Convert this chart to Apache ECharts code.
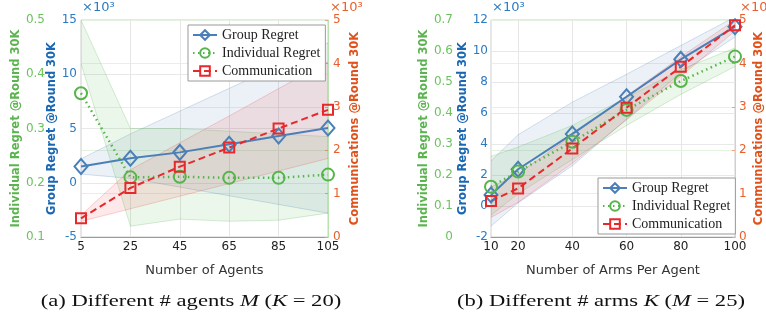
<!DOCTYPE html>
<html><head><meta charset="utf-8">
<script src="https://cdn.jsdelivr.net/npm/echarts@6/dist/echarts.min.js"></script>
<style>html,body{margin:0;padding:0;background:#fff}#c{width:766px;height:320px}</style>
</head><body><div id="c"></div>
<script>
// ---- Panel (a): different number of agents ----
const agents = ['5', '25', '45', '65', '85', '105'];
const groupA = [1.5, 2.25, 2.8, 3.55, 4.3, 5.05];          // x10^3
const groupA_hi = [2.2, 4.5, 6.6, 8.7, 10.8, 12.9];
const groupA_lo = [0.8, 0.4, -0.4, -1.2, -2.0, -2.8];
const indivA = [0.365, 0.21, 0.211, 0.209, 0.209, 0.215];
const indivA_hi = [0.5, 0.30, 0.30, 0.295, 0.29, 0.285];
const indivA_lo = [0.42, 0.12, 0.133, 0.129, 0.131, 0.144];
const commA = [0.43, 1.13, 1.62, 2.06, 2.5, 2.93];          // x10^3
const commA_hi = [0.5, 1.55, 2.17, 2.79, 3.42, 4.04];
const commA_lo = [0.36, 0.65, 0.94, 1.23, 1.52, 1.81];

// ---- Panel (b): different number of arms ----
const arms = [10, 20, 40, 60, 80, 100];
const armTicks = [10, 20, 40, 60, 80, 100];
const groupB = [0.71, 2.37, 4.65, 7.05, 9.46, 11.57];       // x10^3
const groupB_hi = [2.9, 4.6, 6.7, 8.5, 10.35, 12.2];
const groupB_lo = [-1.3, 0.2, 2.6, 5.6, 8.6, 10.9];
const indivB = [0.162, 0.211, 0.307, 0.41, 0.503, 0.582];
const indivB_hi = [0.26, 0.29, 0.36, 0.45, 0.54, 0.61];
const indivB_lo = [0.07, 0.14, 0.25, 0.36, 0.46, 0.55];
const commB = [0.83, 1.12, 2.04, 2.98, 3.92, 4.88];         // x10^3
const commB_hi = [1.15, 1.45, 2.35, 3.25, 4.15, 5.0];
const commB_lo = [0.45, 0.8, 1.7, 2.7, 3.7, 4.75];

const names = ['Group Regret', 'Individual Regret', 'Communication'];

const C_BLUE = '#4a7fb8', C_GREEN = '#55b54a', C_RED = '#e8282b';
const F_BLUE = 'rgba(74,127,184,0.11)', F_GREEN = 'rgba(85,181,74,0.11)', F_RED = 'rgba(232,40,43,0.10)';
const E_BLUE = 'rgba(74,127,184,0.3)', E_GREEN = 'rgba(85,181,74,0.3)', E_RED = 'rgba(232,40,43,0.25)';
const T_BLUE = '#2b7bc4', T_GREEN = '#6cc35e', T_ORANGE = '#e8602c';
const N_BLUE = '#1a67b3', N_GREEN = '#5cb450', N_ORANGE = '#e0521c';
const SANS = 'DejaVu Sans';

function pts(xs, ys, cat) { return xs.map((x, i) => cat ? ys[i] : [x, ys[i]]); }

function band(xi, yi, xs, lo, hi, fill, edge, cat) {
  const data = xs.map((x, i) => [cat ? i : x, lo[i], hi[i]]);
  return {
    type: 'custom', xAxisIndex: xi, yAxisIndex: yi, data: data, z: 1, silent: true,
    encode: { x: 0, y: [1, 2] },
    renderItem: function (params, api) {
      if (params.dataIndex !== 0) return null;
      const up = data.map(d => api.coord([d[0], d[2]]));
      const dn = data.map(d => api.coord([d[0], d[1]]));
      const cs = params.coordSys;
      return {
        type: 'group',
        clipPath: { type: 'rect', shape: { x: cs.x, y: cs.y, width: cs.width, height: cs.height } },
        children: [
          { type: 'polygon', shape: { points: up.concat(dn.slice().reverse()) }, style: { fill: fill } },
          { type: 'polyline', shape: { points: up }, style: { stroke: edge, lineWidth: 0.8, fill: null } },
          { type: 'polyline', shape: { points: dn }, style: { stroke: edge, lineWidth: 0.8, fill: null } }
        ]
      };
    }
  };
}

function mainLines(xi, yB, yG, yO, xs, g, ind, cm, cat) {
  return [
    { type: 'line', name: names[0], xAxisIndex: xi, yAxisIndex: yB, data: pts(xs, g, cat), z: 4,
      symbol: 'diamond', symbolSize: [13, 15],
      lineStyle: { color: C_BLUE, width: 2 },
      itemStyle: { color: 'rgba(255,255,255,0)', borderColor: C_BLUE, borderWidth: 2 } },
    { type: 'line', name: names[1], xAxisIndex: xi, yAxisIndex: yG, data: pts(xs, ind, cat), z: 4,
      symbol: 'circle', symbolSize: 12,
      lineStyle: { color: C_GREEN, width: 2.5, type: [1.5, 3.5] },
      itemStyle: { color: 'rgba(255,255,255,0)', borderColor: C_GREEN, borderWidth: 2 } },
    { type: 'line', name: names[2], xAxisIndex: xi, yAxisIndex: yO, data: pts(xs, cm, cat), z: 4,
      symbol: 'rect', symbolSize: 10,
      lineStyle: { color: C_RED, width: 2, type: [7, 4] },
      itemStyle: { color: 'rgba(255,255,255,0)', borderColor: C_RED, borderWidth: 2 } }
  ];
}

function yAx(gi, opts) {
  return Object.assign({
    type: 'value', gridIndex: gi, nameLocation: 'middle', nameRotate: 90,
    axisLine: { show: false }, axisTick: { show: false }, splitLine: { show: false }
  }, opts);
}

const labelFont = { fontFamily: SANS, fontSize: 12 };
const nameFont = (c) => ({ fontFamily: SANS, fontSize: 11.5, fontWeight: 'bold', color: c });
const legendCommon = { data: names, orient: 'vertical', itemWidth: 24, itemHeight: 12, itemGap: 4,
  padding: [3, 5, 3, 4], backgroundColor: '#fff', borderColor: '#999', borderWidth: 1, borderRadius: 0,
  textStyle: { fontFamily: 'Liberation Serif', fontSize: 14, color: '#222' }, selectedMode: false };
const capRich = { i: { font: 'italic 17px Liberation Serif', fill: '#111' } };

const option = {
  animation: false,
  backgroundColor: '#fff',
  grid: [
    { left: 81, top: 20, width: 247, height: 217, show: true, borderColor: '#cfcfcf', borderWidth: 1, backgroundColor: 'transparent' },
    { left: 491, top: 20, width: 248, height: 217, show: true, borderColor: '#cfcfcf', borderWidth: 1, backgroundColor: 'transparent' }
  ],
  xAxis: [
    { type: 'category', gridIndex: 0, data: agents, boundaryGap: false,
      name: 'Number of Agents', nameLocation: 'middle', nameGap: 27,
      nameTextStyle: { fontFamily: SANS, fontSize: 13, color: '#333' },
      axisLine: { onZero: false, lineStyle: { color: '#9a9a9a' } }, axisTick: { show: false },
      axisLabel: Object.assign({ color: '#222', margin: 4 }, labelFont),
      splitLine: { show: true, lineStyle: { color: '#e6e6e6' } } },
    { type: 'value', gridIndex: 1, min: 10, max: 100, interval: 10,
      name: 'Number of Arms Per Agent', nameLocation: 'middle', nameGap: 27,
      nameTextStyle: { fontFamily: SANS, fontSize: 13, color: '#333' },
      axisLine: { onZero: false, lineStyle: { color: '#9a9a9a' } }, axisTick: { show: false },
      axisLabel: Object.assign({ color: '#222', margin: 4, showMinLabel: true, showMaxLabel: true,
        formatter: v => armTicks.indexOf(v) >= 0 ? String(v) : '' }, labelFont),
      splitLine: { show: true, lineStyle: { color: ['rgba(0,0,0,0)', '#e6e6e6'] } } }
  ],
  yAxis: [
    // panel a
    yAx(0, { min: -5, max: 15, interval: 5, position: 'left',
      name: 'Group Regret @Round 30K', nameGap: 23, nameTextStyle: nameFont(N_BLUE),
      axisLabel: Object.assign({ color: T_BLUE, margin: 4 }, labelFont),
      splitLine: { show: true, lineStyle: { color: '#e8e8e8' } } }),
    yAx(0, { min: 0.1, max: 0.5, interval: 0.1, position: 'left', offset: 32,
      name: 'Individual Regret @Round 30K', nameGap: 27, nameTextStyle: nameFont(N_GREEN),
      axisLabel: Object.assign({ color: T_GREEN, margin: 4, formatter: v => v.toFixed(1) }, labelFont) }),
    yAx(0, { min: 0, max: 5, interval: 1, position: 'right',
      name: 'Communications @Round 30K', nameGap: 21, nameTextStyle: nameFont(N_ORANGE),
      axisLine: { show: true, lineStyle: { color: '#b9e2b0' } },
      axisTick: { show: true, inside: true, length: 3, lineStyle: { color: '#f0a080' } },
      axisLabel: Object.assign({ color: T_ORANGE, margin: 5 }, labelFont),
      splitLine: { show: true, lineStyle: { color: '#e4f2e0' } } }),
    // panel b
    yAx(1, { min: -2, max: 12, interval: 2, position: 'left',
      name: 'Group Regret @Round 30K', nameGap: 22, nameTextStyle: nameFont(N_BLUE),
      axisLabel: Object.assign({ color: T_BLUE, margin: 3 }, labelFont),
      splitLine: { show: true, lineStyle: { color: '#e8e8e8' } } }),
    yAx(1, { min: 0, max: 0.7, interval: 0.1, position: 'left', offset: 34,
      name: 'Individual Regret @Round 30K', nameGap: 25, nameTextStyle: nameFont(N_GREEN),
      axisLabel: Object.assign({ color: T_GREEN, margin: 4, formatter: v => v === 0 ? '0' : v.toFixed(1) }, labelFont) }),
    yAx(1, { min: 0, max: 5, interval: 1, position: 'right',
      name: 'Communications @Round 30K', nameGap: 18, nameTextStyle: nameFont(N_ORANGE),
      axisLine: { show: true, lineStyle: { color: '#b9e2b0' } },
      axisTick: { show: true, inside: true, length: 3, lineStyle: { color: '#f0a080' } },
      axisLabel: Object.assign({ color: T_ORANGE, margin: 4 }, labelFont),
      splitLine: { show: true, lineStyle: { color: '#e4f2e0' } } })
  ],
  legend: [
    Object.assign({ left: 188, top: 25 }, legendCommon),
    Object.assign({ left: 598, top: 178 }, legendCommon)
  ],
  graphic: [
    { type: 'text', left: 82, top: 1, style: { text: '×10³', font: '13px DejaVu Sans', fill: T_BLUE } },
    { type: 'text', left: 330, top: 1, style: { text: '×10³', font: '13px DejaVu Sans', fill: T_ORANGE } },
    { type: 'text', left: 492, top: 1, style: { text: '×10³', font: '13px DejaVu Sans', fill: T_BLUE } },
    { type: 'text', left: 740, top: 1, style: { text: '×10³', font: '13px DejaVu Sans', fill: T_ORANGE } },
    { type: 'text', x: 191, y: 302, scaleX: 1.33, style: { text: '(a) Different # agents {i|M} ({i|K} = 20)',
        font: '17px Liberation Serif', fill: '#111', align: 'center', verticalAlign: 'middle', rich: capRich } },
    { type: 'text', x: 601, y: 302, scaleX: 1.33, style: { text: '(b) Different # arms {i|K} ({i|M} = 25)',
        font: '17px Liberation Serif', fill: '#111', align: 'center', verticalAlign: 'middle', rich: capRich } }
  ],
  series: [].concat(
    band(0, 0, agents, groupA_lo, groupA_hi, F_BLUE, E_BLUE, true),
    band(0, 1, agents, indivA_lo, indivA_hi, F_GREEN, E_GREEN, true),
    band(0, 2, agents, commA_lo, commA_hi, F_RED, E_RED, true),
    mainLines(0, 0, 1, 2, agents, groupA, indivA, commA, true),
    band(1, 3, arms, groupB_lo, groupB_hi, F_BLUE, E_BLUE, false),
    band(1, 4, arms, indivB_lo, indivB_hi, F_GREEN, E_GREEN, false),
    band(1, 5, arms, commB_lo, commB_hi, F_RED, E_RED, false),
    mainLines(1, 3, 4, 5, arms, groupB, indivB, commB, false)
  )
};

const chart = echarts.init(document.getElementById('c'), null, { renderer: 'canvas' });
chart.setOption(option);
</script>
</body></html>
